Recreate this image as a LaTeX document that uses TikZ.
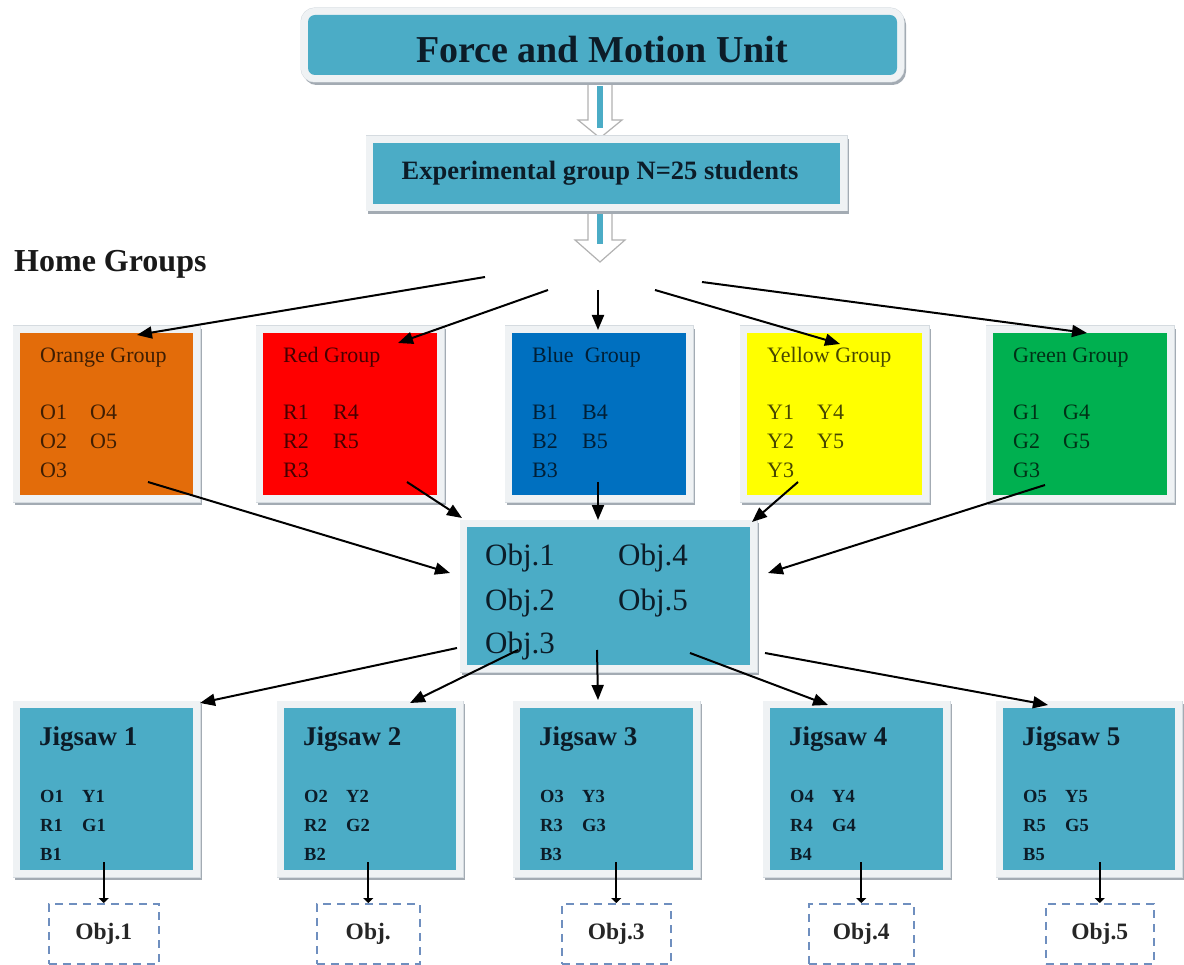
\documentclass[tikz,border=0pt]{standalone}
\usepackage{fontspec}
\setmainfont{Liberation Serif}
\usetikzlibrary{arrows.meta,calc}
\definecolor{aqua}{HTML}{4BACC6}
\definecolor{orng}{HTML}{E36C0A}
\definecolor{rd}{HTML}{FF0000}
\definecolor{bl}{HTML}{0070C0}
\definecolor{yl}{HTML}{FFFF00}
\definecolor{gr}{HTML}{00B050}
\definecolor{framecol}{HTML}{EFF2F4}
\definecolor{edgecol}{HTML}{D5DBE0}
\definecolor{shadecol}{HTML}{A3ABB3}
\definecolor{dashcol}{HTML}{6F8FBF}
\definecolor{inkcol}{HTML}{0C1C28}
\newcommand\myfs[1]{\fontsize{#1}{#1}\selectfont}
\tikzset{
  panel/.style={rectangle, inner sep=0pt, outer sep=0pt, anchor=north west, fill=#1,
    preaction={draw=shadecol, line width=14pt, transform canvas={shift={(2pt,-3pt)}}},
    preaction={draw=edgecol, line width=15pt},
    preaction={draw=framecol, line width=14pt}},
  gtxt/.style={anchor=base west, inner sep=0pt, font=\myfs{22}},
  jtitle/.style={anchor=base west, inner sep=0pt, font=\myfs{27}\bfseries, text=inkcol},
  jtxt/.style={anchor=base west, inner sep=0pt, font=\myfs{18.5}\bfseries, text=inkcol},
  otxt/.style={anchor=base west, inner sep=0pt, font=\myfs{31}, text=inkcol},
  dbox/.style={rectangle, anchor=north west, inner sep=0pt, draw=dashcol, line width=1.5pt,
    dash pattern=on 8pt off 6pt, font=\myfs{23.5}\bfseries, text=black!85},
  arr/.style={-{Triangle[length=15pt,width=12pt]}, line width=2pt, black},
  smallarr/.style={-{Triangle[length=5pt,width=10pt]}, line width=2pt, black},
  hollow/.style={fill=white, draw=black!30, line width=1.2pt, line join=miter},
}
\begin{document}
\begin{tikzpicture}[x=1pt,y=-1pt]
\useasboundingbox (0,0) rectangle (1184,965);

% hollow block arrows
\coordinate (ha1) at (600,80);
\coordinate (ha2) at (600,208);
\begin{scope}[shift={(ha1)}]
  \draw[hollow] (-12,0) -- (12,0) -- (12,40) -- (22,40) -- (0,58) -- (-22,40) -- (-12,40) -- cycle;
  \fill[aqua] (-3,6) rectangle (3,48);
\end{scope}
\begin{scope}[shift={(ha2)}]
  \draw[hollow] (-12,0) -- (12,0) -- (12,32) -- (25,32) -- (0,54) -- (-25,32) -- (-12,32) -- cycle;
  \fill[aqua] (-3,4) rectangle (3,36);
\end{scope}

% title and experimental group
\node[panel=aqua, rounded corners=7pt, minimum width=589pt, minimum height=60pt] (title) at (308,15) {};
\node[anchor=base, inner sep=0pt, font=\myfs{38}\bfseries, text=inkcol] (titletxt) at (602,63) {Force and Motion Unit};
\node[panel=aqua, minimum width=467pt, minimum height=61pt] (exper) at (373,143) {};
\node[anchor=base, inner sep=0pt, font=\myfs{26.5}\bfseries, text=inkcol] (expertxt) at (600,180) {Experimental group N=25 students};

\node[anchor=base west, inner sep=0pt, font=\myfs{32}\bfseries, text=black!90] (home) at (14,272) {Home Groups};

% home groups
\foreach \n/\c/\t/\L/\x/\w in {orange/orng/Orange Group/O/20/173, red/rd/Red Group/R/263/174, blue/bl/Blue\ \ Group/B/512/174, yellow/yl/Yellow Group/Y/747/175, green/gr/Green Group/G/993/174}{
  \node[panel=\c, minimum width=\w pt, minimum height=162pt] (\n) at (\x,333) {};
  \node[gtxt, text=\c!28!black] (\n-h) at ($(\n.north west)+(20,30)$) {\t};
  \node[gtxt, text=\c!28!black] (\n-a) at ($(\n.north west)+(20,87)$) {\L1};
  \node[gtxt, text=\c!28!black] (\n-b) at ($(\n.north west)+(70,87)$) {\L4};
  \node[gtxt, text=\c!28!black] (\n-c) at ($(\n.north west)+(20,116)$) {\L2};
  \node[gtxt, text=\c!28!black] (\n-d) at ($(\n.north west)+(70,116)$) {\L5};
  \node[gtxt, text=\c!28!black] (\n-e) at ($(\n.north west)+(20,145)$) {\L3};
}

% objectives box
\node[panel=aqua, minimum width=283pt, minimum height=138pt] (obj) at (467,527) {};
\node[otxt] (obj1) at (485,565) {Obj.1};
\node[otxt] (obj4) at (618,565) {Obj.4};
\node[otxt] (obj2) at (485,610) {Obj.2};
\node[otxt] (obj5) at (618,610) {Obj.5};
\node[otxt] (obj3) at (485,653) {Obj.3};

% jigsaw groups and expert objectives
\foreach \i/\x/\w/\dx/\dw/\lab in {1/20/173/48/110/Obj.1, 2/284/172/316/103/Obj., 3/520/173/561/109/Obj.3, 4/770/173/808/105/Obj.4, 5/1003/172/1045/108/Obj.5}{
  \node[panel=aqua, minimum width=\w pt, minimum height=162pt] (jig\i) at (\x,708) {};
  \node[jtitle] (jt\i) at ($(jig\i.north west)+(19,37)$) {Jigsaw \i};
  \node[jtxt] (ja\i) at ($(jig\i.north west)+(20,94)$) {O\i};
  \node[jtxt] (jb\i) at ($(jig\i.north west)+(62,94)$) {Y\i};
  \node[jtxt] (jc\i) at ($(jig\i.north west)+(20,123)$) {R\i};
  \node[jtxt] (jd\i) at ($(jig\i.north west)+(62,123)$) {G\i};
  \node[jtxt] (je\i) at ($(jig\i.north west)+(20,152)$) {B\i};
  \node[dbox, minimum width=\dw pt, minimum height=60pt] (d\i) at (\dx,903) {\lab};
  \draw[smallarr] ($(d\i.north |- jig\i.south)+(0,-8)$) -- (d\i.north);
}

% fan-out to home groups
\coordinate (f1) at (485,277);
\coordinate (f2) at (548,290);
\coordinate (f3) at (598,290);
\coordinate (f4) at (655,290);
\coordinate (f5) at (702,282);
\draw[arr] (f1) -- ($(orange.north west)+(117,2)$);
\draw[arr] (f2) -- ($(red.north west)+(135,10)$);
\draw[arr] (f3) -- ($(blue.north west)+(86,-3)$);
\draw[arr] (f4) -- ($(yellow.north west)+(93,11)$);
\draw[arr] (f5) -- ($(green.north west)+(94,0)$);

% home groups to objectives
\draw[arr] ($(orange.north west)+(128,149)$) -- ($(obj.west)+(-17,-23)$);
\draw[arr] ($(red.north west)+(144,149)$) -- ($(obj.north west)+(-5,-9)$);
\draw[arr] ($(blue.north west)+(86,149)$) -- ($(obj.north west)+(131,-7)$);
\draw[arr] ($(yellow.north west)+(51,149)$) -- ($(obj.north east)+(2,-5)$);
\draw[arr] ($(green.north west)+(52,152)$) -- ($(obj.east)+(18,-23)$);

% objectives to jigsaw groups
\draw[arr] ($(obj.south west)+(-10,-17)$) -- ($(jig1.north east)+(7,-5)$);
\draw[arr] ($(obj.south west)+(51,-15)$) -- ($(jig2.north west)+(126,-5)$);
\draw[arr] ($(obj.south west)+(130,-15)$) -- ($(jig3.north west)+(78,-8)$);
\draw[arr] ($(obj.south west)+(223,-12)$) -- ($(jig4.north west)+(58,-3)$);
\draw[arr] ($(obj.south west)+(298,-12)$) -- ($(jig5.north west)+(45,-3)$);
\end{tikzpicture}
\end{document}
